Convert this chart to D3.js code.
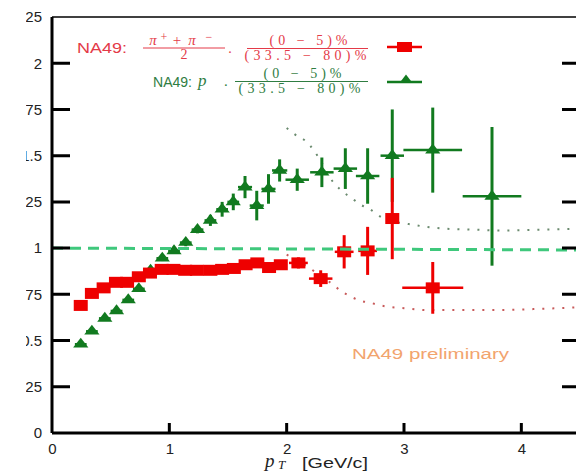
<!DOCTYPE html>
<html>
<head>
<meta charset="utf-8">
<script src="https://cdn.jsdelivr.net/npm/d3@7"></script>
<style>
  body { margin: 0; background: #fff; }
  svg { display: block; }
  text { font-family: "Liberation Sans", Arial, sans-serif; }
  .serif { font-family: "Liberation Serif", "DejaVu Serif", serif; }
</style>
</head>
<body>
<div id="chart"></div>
<script>
// pi ratio (0-5)% / (33.5-80)%
const pionPt   = [0.245, 0.34, 0.44, 0.545, 0.64, 0.74, 0.835, 0.935, 1.035, 1.135, 1.235, 1.35, 1.45, 1.55, 1.65, 1.75, 1.85, 1.95, 2.10, 2.29, 2.49, 2.69, 2.90, 3.245];
const pionR    = [0.69, 0.755, 0.785, 0.815, 0.815, 0.845, 0.865, 0.885, 0.885, 0.88, 0.88, 0.88, 0.885, 0.89, 0.91, 0.92, 0.895, 0.91, 0.92, 0.835, 0.98, 0.985, 1.16, 0.785];
const pionErr  = [0.01, 0.01, 0.01, 0.01, 0.01, 0.01, 0.01, 0.01, 0.01, 0.01, 0.01, 0.015, 0.015, 0.015, 0.02, 0.02, 0.02, 0.025, 0.03, 0.045, 0.09, 0.13, 0.22, 0.14];
const pionXErr = [0.05, 0.05, 0.05, 0.05, 0.05, 0.05, 0.05, 0.05, 0.05, 0.05, 0.05, 0.05, 0.05, 0.05, 0.05, 0.05, 0.05, 0.05, 0.08, 0.1, 0.08, 0.08, 0.05, 0.26];

// proton ratio (0-5)% / (33.5-80)%
const protonPt   = [0.245, 0.34, 0.45, 0.55, 0.65, 0.74, 0.84, 0.94, 1.04, 1.14, 1.24, 1.35, 1.45, 1.545, 1.645, 1.745, 1.845, 1.94, 2.09, 2.30, 2.50, 2.69, 2.90, 3.245, 3.75];
const protonR    = [0.48, 0.55, 0.62, 0.66, 0.72, 0.78, 0.88, 0.945, 0.985, 1.03, 1.10, 1.15, 1.21, 1.25, 1.33, 1.23, 1.32, 1.42, 1.37, 1.41, 1.43, 1.39, 1.50, 1.53, 1.28];
const protonErr  = [0.01, 0.01, 0.01, 0.01, 0.01, 0.01, 0.01, 0.015, 0.015, 0.02, 0.02, 0.03, 0.04, 0.045, 0.06, 0.08, 0.08, 0.06, 0.06, 0.08, 0.11, 0.15, 0.25, 0.23, 0.375];
const protonXErr = [0.05, 0.05, 0.05, 0.05, 0.05, 0.05, 0.05, 0.05, 0.05, 0.05, 0.05, 0.05, 0.05, 0.05, 0.06, 0.06, 0.06, 0.065, 0.1, 0.1, 0.1, 0.1, 0.1, 0.25, 0.25];

// dotted model curves
const pionCurvePt   = [2.0, 2.1, 2.2, 2.3, 2.38, 2.47, 2.555, 2.63, 2.71, 2.8, 2.9, 3.0, 3.2, 3.5, 3.8, 4.1, 4.5];
const pionCurveR    = [0.965, 0.93, 0.89, 0.845, 0.81, 0.765, 0.735, 0.715, 0.705, 0.69, 0.68, 0.675, 0.665, 0.665, 0.665, 0.67, 0.68];
const protonCurvePt = [2.0, 2.07, 2.16, 2.23, 2.30, 2.37, 2.47, 2.555, 2.63, 2.71, 2.8, 2.94, 3.04, 3.19, 3.36, 3.59, 3.85, 4.16, 4.5];
const protonCurveR  = [1.65, 1.615, 1.58, 1.53, 1.46, 1.38, 1.31, 1.27, 1.235, 1.21, 1.17, 1.14, 1.13, 1.115, 1.105, 1.10, 1.095, 1.10, 1.105];

const xTickValues = [0, 1, 2, 3, 4];
const xTickLabels = ['0', '1', '2', '3', '4'];
const yTickValues = [0, 0.25, 0.5, 0.75, 1, 1.25, 1.5, 1.75, 2, 2.25];
const yTickLabels = ['0', '0.25', '0.5', '0.75', '1', '1.25', '1.5', '1.75', '2', '2.25'];

const width = 576, height = 472;
const red = '#ee0000', green = '#117a1f';

const x = d3.scaleLinear().domain([0, 4.5]).range([52, 580]);
const y = d3.scaleLinear().domain([0, 2.25]).range([433, 17]);

const svg = d3.select('#chart').append('svg')
  .attr('width', width)
  .attr('height', height);

svg.append('rect').attr('width', width).attr('height', height).attr('fill', '#fff');

// Clip for the left labels (the left edge is cut off in the original).
svg.append('clipPath').attr('id', 'ylab-clip')
  .append('rect').attr('x', -26).attr('y', 0).attr('width', 60).attr('height', height);

// Axis labels via d3 axes (tick marks drawn separately at the end).
svg.append('g')
  .attr('transform', 'translate(' + x(0) + ',0)')
  .attr('clip-path', 'url(#ylab-clip)')
  .call(d3.axisLeft(y).tickValues(yTickValues)
    .tickFormat((d, i) => yTickLabels[i]).tickSize(0).tickPadding(10));

svg.append('g')
  .attr('transform', 'translate(0,' + y(0) + ')')
  .call(d3.axisBottom(x).tickValues(xTickValues)
    .tickFormat((d, i) => xTickLabels[i]).tickSize(0).tickPadding(10));

svg.selectAll('.domain').remove();
svg.selectAll('.tick line').remove();
svg.selectAll('.tick text')
  .attr('fill', '#222')
  .style('font-size', '15px');

// Dotted model curves.
const curve = d3.line().x(d => x(d[0])).y(d => y(d[1])).curve(d3.curveMonotoneX);

svg.append('path')
  .attr('d', curve(d3.zip(protonCurvePt, protonCurveR)))
  .attr('fill', 'none').attr('stroke', '#6a8a6e').attr('stroke-width', 2)
  .attr('stroke-dasharray', '2 8');

svg.append('path')
  .attr('d', curve(d3.zip(pionCurvePt, pionCurveR)))
  .attr('fill', 'none').attr('stroke', '#c85a5a').attr('stroke-width', 2)
  .attr('stroke-dasharray', '2 8');

// Data points with error bars.
const triangle = d3.symbol().type(d3.symbolTriangle).size(70)();

function drawSeries(pts, vals, errs, xerrs, color, cls) {
  const data = pts.map((p, i) => ({ x: p, y: vals[i], e: errs[i], xe: xerrs[i] }));
  const g = svg.append('g').attr('class', cls);
  const pt = g.selectAll('g').data(data).join('g');
  pt.append('line')
    .attr('x1', d => x(d.x)).attr('x2', d => x(d.x))
    .attr('y1', d => y(d.y - d.e)).attr('y2', d => y(d.y + d.e))
    .attr('stroke', color).attr('stroke-width', 3);
  pt.append('line')
    .attr('x1', d => x(d.x - d.xe)).attr('x2', d => x(d.x + d.xe))
    .attr('y1', d => y(d.y)).attr('y2', d => y(d.y))
    .attr('stroke', color).attr('stroke-width', 2.5);
  return pt;
}

drawSeries(protonPt, protonR, protonErr, protonXErr, green, 'protons')
  .append('path')
  .attr('d', triangle)
  .attr('transform', d => 'translate(' + x(d.x) + ',' + y(d.y) + ') scale(1.2,0.9)')
  .attr('fill', green);

drawSeries(pionPt, pionR, pionErr, pionXErr, red, 'pions')
  .append('rect')
  .attr('x', d => x(d.x) - 7).attr('y', d => y(d.y) - 5.5)
  .attr('width', 14).attr('height', 11)
  .attr('fill', red);

// Dashed line at ratio 1.
svg.append('line')
  .attr('x1', x(0)).attr('x2', x(4.5))
  .attr('y1', y(1)).attr('y2', y(0.99))
  .attr('stroke', '#3fc87c').attr('stroke-width', 3)
  .attr('stroke-dasharray', '11 7');

// Legend.
const legRed = '#e43a48', legGreen = '#2f7d42';

svg.append('text').attr('x', 77).attr('y', 53).attr('fill', legRed)
  .attr('textLength', 50).attr('lengthAdjust', 'spacingAndGlyphs')
  .style('font-size', '15px').text('NA49:');

const piNum = [['π', 153, 45, 15, 'italic'], ['+', 164, 41, 12, 'normal'], ['+', 177, 45, 15, 'normal'],
  ['π', 192, 45, 15, 'italic'], ['−', 209, 41, 12, 'normal']];
svg.selectAll('.pinum').data(piNum).join('text')
  .attr('class', 'pinum serif')
  .attr('x', d => d[1]).attr('y', d => d[2])
  .attr('text-anchor', 'middle').attr('fill', legRed)
  .style('font-size', d => d[3] + 'px')
  .style('font-style', d => d[4])
  .text(d => d[0]);

svg.append('line').attr('x1', 143).attr('x2', 225).attr('y1', 48).attr('y2', 48)
  .attr('stroke', legRed).attr('stroke-width', 1);
svg.append('text').attr('class', 'serif').attr('x', 184).attr('y', 59).attr('text-anchor', 'middle')
  .attr('fill', legRed).style('font-size', '14px').text('2');
svg.append('text').attr('class', 'serif').attr('x', 230).attr('y', 53).attr('text-anchor', 'middle')
  .attr('fill', legRed).style('font-size', '14px').text('.');

function centFraction(yBar, x0, x1, color) {
  const cx = (x0 + x1) / 2;
  svg.append('line').attr('x1', x0).attr('x2', x1).attr('y1', yBar).attr('y2', yBar)
    .attr('stroke', color).attr('stroke-width', 1);
  svg.append('text').attr('class', 'serif').attr('x', cx - 38).attr('y', yBar - 3.5)
    .attr('fill', color).attr('textLength', 78).attr('lengthAdjust', 'spacing')
    .style('font-size', '14px').text('(0 − 5)%');
  svg.append('text').attr('class', 'serif').attr('x', cx - 63).attr('y', yBar + 11.5)
    .attr('fill', color).attr('textLength', 122).attr('lengthAdjust', 'spacing')
    .style('font-size', '14px').text('(33.5 − 80)%');
}
centFraction(48.5, 247, 368, legRed);

svg.append('text').attr('x', 153).attr('y', 87).attr('fill', legGreen)
  .attr('textLength', 39).attr('lengthAdjust', 'spacingAndGlyphs')
  .style('font-size', '14px').text('NA49:');
svg.append('text').attr('class', 'serif').attr('x', 198).attr('y', 86).attr('fill', legGreen)
  .style('font-size', '17px').style('font-style', 'italic').text('p');
svg.append('text').attr('class', 'serif').attr('x', 224).attr('y', 86).attr('fill', legGreen)
  .style('font-size', '15px').text('.');
centFraction(81.5, 235, 368, legGreen);

// Legend samples.
svg.append('line').attr('x1', 387).attr('x2', 422).attr('y1', 47).attr('y2', 47)
  .attr('stroke', red).attr('stroke-width', 2.5);
svg.append('rect').attr('x', 397).attr('y', 42).attr('width', 15).attr('height', 10).attr('fill', red);
svg.append('line').attr('x1', 387).attr('x2', 422).attr('y1', 82).attr('y2', 82)
  .attr('stroke', green).attr('stroke-width', 2.5);
svg.append('path').attr('d', triangle)
  .attr('transform', 'translate(406,80) scale(1,0.75)').attr('fill', green);

// Annotation.
svg.append('text').attr('x', 352).attr('y', 359).attr('fill', '#f2a46e')
  .attr('textLength', 157).attr('lengthAdjust', 'spacingAndGlyphs')
  .style('font-size', '14px').text('NA49 preliminary');

// Axis title.
svg.append('text').attr('class', 'serif').attr('x', 265).attr('y', 467).attr('fill', '#222')
  .style('font-size', '19px').style('font-style', 'italic').text('p');
svg.append('text').attr('class', 'serif').attr('x', 278).attr('y', 469).attr('fill', '#222')
  .style('font-size', '13px').style('font-style', 'italic').text('T');
svg.append('text').attr('x', 302).attr('y', 468).attr('fill', '#222')
  .attr('textLength', 66).attr('lengthAdjust', 'spacingAndGlyphs')
  .style('font-size', '15px').text('[GeV/c]');

// Frame.
svg.append('line').attr('x1', x(0)).attr('x2', x(4.5)).attr('y1', y(2.25)).attr('y2', y(2.25))
  .attr('stroke', '#000').attr('stroke-width', 1.5);
svg.append('line').attr('x1', x(0)).attr('x2', x(4.5)).attr('y1', y(0)).attr('y2', y(0))
  .attr('stroke', '#000').attr('stroke-width', 3);
svg.append('line').attr('x1', x(0)).attr('x2', x(0)).attr('y1', y(2.25)).attr('y2', y(0))
  .attr('stroke', '#000').attr('stroke-width', 3);

// Tick marks, pointing inward (left, right, bottom).
let tickPath = '';
yTickValues.slice(1, -1).forEach(v => {
  tickPath += 'M' + x(0) + ',' + y(v) + 'H' + (x(0) + 18);
  tickPath += 'M' + (x(4.5) - 18) + ',' + y(v) + 'H' + x(4.5);
});
xTickValues.slice(1).forEach(v => {
  tickPath += 'M' + x(v) + ',' + y(0) + 'V' + (y(0) - 10);
});
svg.append('path')
  .attr('class', 'tickpath')
  .attr('d', tickPath)
  .attr('fill', 'none')
  .attr('stroke', '#000')
  .attr('stroke-width', 3);
</script>
</body>
</html>
